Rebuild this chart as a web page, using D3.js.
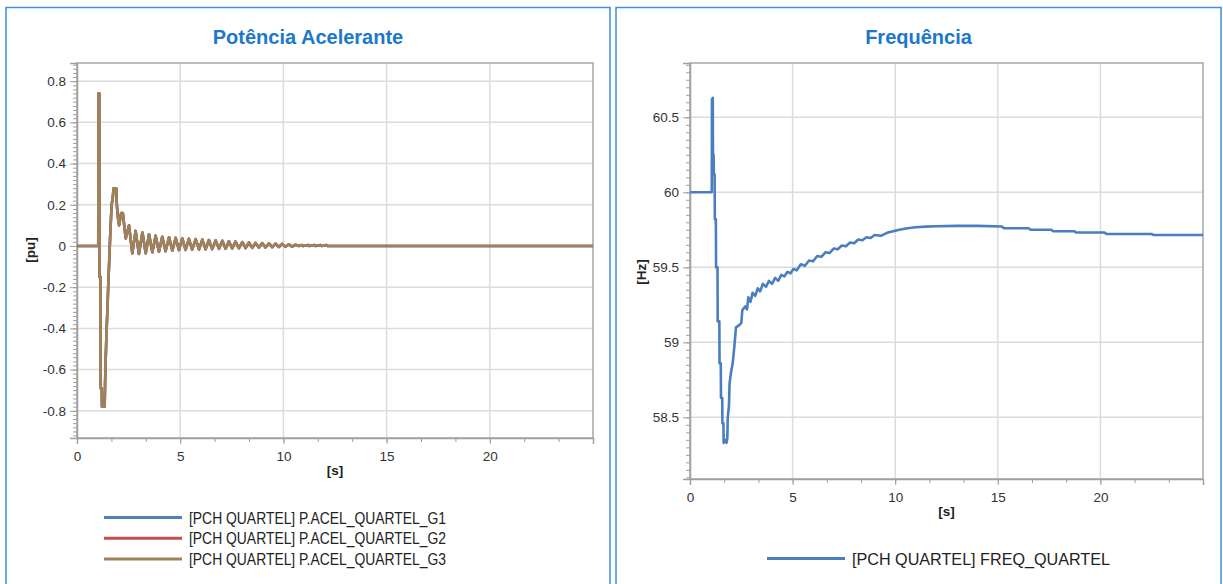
<!DOCTYPE html>
<html><head><meta charset="utf-8">
<script src="https://cdn.jsdelivr.net/npm/d3@7"></script>
<style>
body{margin:0;background:#fff;}
svg{display:block;font-family:"Liberation Sans",Arial,sans-serif;}
</style>
</head><body>
<svg id="c" width="1223" height="584"></svg>
<script>
// ---------- data ----------
const accelTitle = "Potência Acelerante";
const freqTitle = "Frequência";
const accelSeries = ["[PCH QUARTEL] P.ACEL_QUARTEL_G1","[PCH QUARTEL] P.ACEL_QUARTEL_G2","[PCH QUARTEL] P.ACEL_QUARTEL_G3"];
const accelColors = ["#4f81bd","#c0504d","#9d825a"];
const freqSeries = ["[PCH QUARTEL] FREQ_QUARTEL"];
const freqColors = ["#4a7ebf"];
const xTicks = [0,5,10,15,20];
const accelYTicks = [-0.8,-0.6,-0.4,-0.2,0,0.2,0.4,0.6,0.8];
const freqYTicks = [58.5,59,59.5,60,60.5];

// [time s, value pu] — same trace for G1, G2, G3 (they overlap)
const accelData = [
 [0,0],[1.03,0],[1.04,0.74],[1.08,0.74],[1.09,-0.15],[1.14,-0.15],[1.15,-0.69],[1.20,-0.69],[1.21,-0.78],[1.34,-0.78],
 [1.36,-0.67],[1.39,-0.55],[1.43,-0.42],[1.48,-0.29],[1.53,-0.15],[1.57,-0.05],[1.62,0.08],[1.68,0.20],[1.74,0.24],[1.77,0.28],
 [1.90,0.28],[1.93,0.20],[1.98,0.14],[2.04,0.10],[2.14,0.16],[2.22,0.16],
 [2.36,0.037],[2.52,0.10],[2.68,-0.036],[2.84,0.073],[3.00,-0.039],[3.17,0.065],[3.33,-0.036],[3.49,0.057],[3.65,-0.031],[3.81,0.050],
 [3.97,-0.028],[4.13,0.045],[4.29,-0.025],[4.46,0.042],[4.62,-0.023],[4.78,0.040],[4.94,-0.020],[5.10,0.037],[5.26,-0.019],[5.42,0.035],
 [5.58,-0.018],[5.75,0.033],[5.91,-0.017],[6.07,0.031],[6.23,-0.016],[6.39,0.029],[6.55,-0.015],[6.72,0.027],[6.88,-0.014],[7.04,0.025],
 [7.20,-0.013],[7.36,0.023],[7.52,-0.012],[7.68,0.021],[7.84,-0.011],[8.01,0.019],[8.17,-0.010],[8.33,0.017],[8.49,-0.009],[8.65,0.015],
 [8.81,-0.008],[8.97,0.014],[9.13,-0.007],[9.30,0.013],[9.46,-0.006],[9.62,0.011],[9.78,-0.005],[9.94,0.010],[10.10,-0.004],[10.26,0.008],
 [10.42,-0.003],[10.59,0.006],[10.75,0],[10.9,0.005],[10.95,0],[11.2,0.005],[11.25,0],[11.5,0.005],[11.55,0],[11.8,0.005],[11.85,0],
 [12.1,0.004],[12.15,0],[25,0]
];

// [time s, frequency Hz]
const freqData = [
 [0,60],[1.06,60],[1.07,60.62],[1.11,60.63],[1.12,60.25],[1.15,60.25],[1.16,60.12],[1.20,60.12],[1.21,59.82],[1.26,59.82],
 [1.27,59.5],[1.34,59.5],[1.35,59.14],[1.43,59.14],[1.44,58.86],[1.50,58.86],[1.51,58.63],[1.57,58.63],[1.58,58.46],[1.63,58.46],
 [1.64,58.33],[1.72,58.35],[1.78,58.33],[1.82,58.36],[1.84,58.5],[1.90,58.58],[1.93,58.73],[2.00,58.80],[2.08,58.86],[2.16,58.97],
 [2.24,59.10],[2.40,59.115],[2.50,59.13],[2.55,59.215],[2.70,59.24],[2.78,59.22],[2.84,59.30],[2.95,59.27],
 [3.05,59.33],[3.18,59.31],[3.30,59.36],[3.42,59.34],[3.55,59.39],[3.70,59.37],[3.85,59.41],[4.00,59.39],[4.15,59.43],[4.30,59.41],
 [4.45,59.45],[4.60,59.44],[4.75,59.47],[4.90,59.46],[5.05,59.49],[5.20,59.48],[5.40,59.52],[5.60,59.51],[5.80,59.545],[6.00,59.54],
 [6.20,59.575],[6.40,59.57],[6.60,59.60],[6.80,59.595],[7.00,59.625],[7.20,59.62],[7.40,59.645],[7.60,59.64],[7.80,59.665],[8.00,59.66],
 [8.20,59.685],[8.40,59.68],[8.60,59.70],[8.80,59.695],[9.00,59.715],[9.30,59.71],[9.60,59.73],[9.90,59.74],[10.2,59.75],[10.6,59.76],
 [11.0,59.767],[11.5,59.771],[12.0,59.774],[13.0,59.776],[14.0,59.776],
 [15.2,59.772],[15.3,59.76],[16.5,59.76],[16.6,59.75],[17.6,59.75],[17.7,59.74],[18.75,59.74],[18.8,59.732],[20.2,59.732],[20.3,59.722],
 [22.5,59.722],[22.6,59.715],[25,59.715]
];

// ---------- drawing ----------
const svg = d3.select("#c");
const font = '"Liberation Sans",Arial,sans-serif';

function drawPanel(o){
  const g = svg.append("g");
  g.append("rect").attr("x",o.px0).attr("y",7.5).attr("width",o.px1-o.px0).attr("height",620)
    .attr("fill","#fff").attr("stroke","#3d8fe0").attr("stroke-width",1.5);
  g.append("text").attr("x",(o.px0+o.px1)/2).attr("y",44).attr("text-anchor","middle")
    .attr("font-size",20).attr("font-weight","bold").attr("fill","#1b78cc").text(o.title);

  const x = d3.scaleLinear().domain([0,25]).range([o.x0,o.x1]);
  const y = d3.scaleLinear().domain(o.yDomain).range([o.y1,o.y0]);

  g.append("g").selectAll("line").data(o.yTicks).join("line")
    .attr("x1",o.x0).attr("x2",o.x1).attr("y1",d=>y(d)).attr("y2",d=>y(d))
    .attr("stroke","#dcdcdc").attr("stroke-width",1.5);
  g.append("g").selectAll("line").data(xTicks.filter(d=>d>0)).join("line")
    .attr("x1",d=>x(d)).attr("x2",d=>x(d)).attr("y1",o.y0).attr("y2",o.y1)
    .attr("stroke","#dcdcdc").attr("stroke-width",1.5);
  g.append("rect").attr("x",o.x0).attr("y",o.y0).attr("width",o.x1-o.x0).attr("height",o.y1-o.y0)
    .attr("fill","none").attr("stroke","#a6a6a6").attr("stroke-width",1.5);

  const yMinor = d3.axisLeft(y).tickValues(d3.range(o.minorStart,o.yDomain[1],o.minorStep)).tickSize(4).tickFormat("");
  const ym = g.append("g").attr("transform",`translate(${o.x0},0)`).call(yMinor);
  ym.select(".domain").remove();
  ym.selectAll("line").attr("stroke","#a0a0a0");
  const xMinor = d3.axisBottom(x).tickValues(d3.range(0,25,5/3)).tickSize(4).tickFormat("");
  const xm = g.append("g").attr("transform",`translate(0,${o.y1})`).call(xMinor);
  xm.select(".domain").remove();
  xm.selectAll("line").attr("stroke","#a0a0a0");

  const ya = g.append("g").attr("transform",`translate(${o.x0},0)`)
    .call(d3.axisLeft(y).tickValues(o.yTicks).tickSize(7).tickPadding(4).tickFormat(d=>String(+d.toFixed(2))));
  ya.select(".domain").attr("stroke","#a0a0a0").attr("stroke-width",1.5);
  ya.selectAll("line").attr("stroke","#a0a0a0");
  ya.selectAll("text").attr("font-size",13.5).attr("font-family",font).attr("fill","#333");
  const xa = g.append("g").attr("transform",`translate(0,${o.y1})`)
    .call(d3.axisBottom(x).tickValues(xTicks).tickSize(6).tickPadding(7));
  xa.select(".domain").attr("stroke","#a0a0a0").attr("stroke-width",1.5);
  xa.selectAll("line").attr("stroke","#a0a0a0");
  xa.selectAll("text").attr("font-size",13.5).attr("font-family",font).attr("fill","#333");

  g.append("text").attr("x",(o.x0+o.x1)/2).attr("y",o.y1+37).attr("text-anchor","middle")
    .attr("font-size",13.5).attr("font-weight","bold").attr("fill","#222").text("[s]");
  g.append("text").attr("transform",`translate(${o.yLabX},${o.yLabY}) rotate(-90)`).attr("text-anchor","middle")
    .attr("font-size",13.5).attr("font-weight","bold").attr("fill","#222").text(o.yLabel);

  const cid = "clip"+o.id;
  svg.append("clipPath").attr("id",cid).append("rect")
    .attr("x",o.x0).attr("y",o.y0).attr("width",o.x1-o.x0).attr("height",o.y1-o.y0);
  const line = d3.line().x(d=>x(d[0])).y(d=>y(d[1]));
  o.series.forEach((s,i)=>{
    g.append("path").attr("clip-path",`url(#${cid})`).attr("d",line(o.data))
      .attr("fill","none").attr("stroke",o.colors[i]).attr("stroke-width",2.6).attr("stroke-linejoin","round");
  });

  o.series.forEach((s,i)=>{
    const ly = o.legY + i*20.7;
    g.append("line").attr("x1",o.legX).attr("x2",o.legX+78).attr("y1",ly).attr("y2",ly)
      .attr("stroke",o.colors[i]).attr("stroke-width",3);
    g.append("text").attr("x",o.legX+85).attr("y",ly+6).attr("font-size",16.5).attr("fill","#222")
      .attr("textLength",o.legW).attr("lengthAdjust","spacingAndGlyphs").text(s);
  });
}

drawPanel({id:"a",px0:6,px1:610,title:accelTitle,x0:77,x1:593,y0:63,y1:438,yDomain:[-0.932,0.888],
  yTicks:accelYTicks,minorStart:-0.92,minorStep:0.02,yLabel:"[pu]",yLabX:35,yLabY:250,
  data:accelData,series:accelSeries,colors:accelColors,legX:104,legY:517.5,legW:257});
drawPanel({id:"f",px0:616,px1:1221,title:freqTitle,x0:690,x1:1203,y0:63,y1:479,yDomain:[58.089,60.862],
  yTicks:freqYTicks,minorStart:58.1,minorStep:0.05,yLabel:"[Hz]",yLabX:646,yLabY:272,
  data:freqData,series:freqSeries,colors:freqColors,legX:767,legY:558.5,legW:258});
</script>
</body></html>
